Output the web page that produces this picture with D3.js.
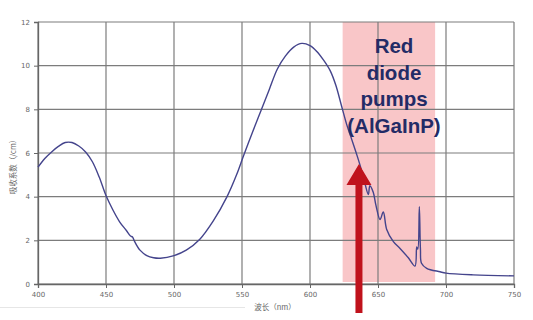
<!DOCTYPE html>
<html>
<head>
<meta charset="utf-8">
<script src="https://d3js.org/d3.v7.min.js"></script>
<style>
  body { margin: 0; background: #fff; }
  svg { display: block; }
</style>
</head>
<body>
<script>
  // absorption spectrum
  let wavelength = [400, 405, 410, 415, 420, 425, 430, 435, 440, 445, 450, 455, 460, 465, 468, 469.5, 471, 475, 480, 485, 490, 500, 509, 519, 529, 539, 546, 551, 558, 564, 570, 576, 582, 588, 594, 600, 605, 610, 615, 619, 623, 627, 630, 634, 637, 640.4, 642.9, 644, 646.5, 648.5, 651.5, 653.9, 656.4, 661.3, 666.2, 672.3, 677.2, 678.5, 679.3, 680.4, 681.2, 682, 685.8, 695.6, 700, 720, 750];
  let absorption = [5.35, 5.75, 6.05, 6.3, 6.48, 6.48, 6.32, 6.05, 5.6, 4.9, 4.05, 3.4, 2.85, 2.45, 2.2, 2.15, 1.95, 1.55, 1.3, 1.2, 1.18, 1.3, 1.55, 2.05, 2.9, 4.0, 5.0, 5.85, 7.0, 7.95, 8.9, 9.85, 10.45, 10.85, 11.02, 10.92, 10.65, 10.25, 9.75, 9.1, 8.2, 7.3, 6.75, 6.0, 5.4, 4.6, 4.1, 4.5, 4.2, 3.6, 2.95, 3.3, 2.5, 1.94, 1.63, 1.2, 0.82, 1.7, 1.6, 3.54, 1.6, 0.95, 0.72, 0.56, 0.5, 0.42, 0.37];

  let xTicks = [400, 450, 500, 550, 600, 650, 700, 750];
  let yTicks = [0, 2, 4, 6, 8, 10, 12];
  let pumpBand = [624, 692];
  let pumpLabel = ["Red", "diode", "pumps", "(AlGaInP)"];
  let arrowAt = 636;

  let width = 533, height = 320;
  let mLeft = 38, mRight = 514, mTop = 22, mBottom = 284;

  let svg = d3.select("body").append("svg")
    .attr("width", width)
    .attr("height", height);

  let x = d3.scaleLinear().domain([400, 750]).range([mLeft, mRight]);
  let y = d3.scaleLinear().domain([0, 12]).range([mBottom, mTop]);

  // pink pump band
  svg.append("rect")
    .attr("x", x(pumpBand[0]))
    .attr("y", mTop)
    .attr("width", x(pumpBand[1]) - x(pumpBand[0]))
    .attr("height", mBottom - mTop - 2)
    .attr("fill", "#f9c6c8");

  // grid
  svg.append("g").selectAll("line")
    .data(yTicks)
    .join("line")
    .attr("x1", mLeft).attr("x2", mRight)
    .attr("y1", d => y(d)).attr("y2", d => y(d))
    .attr("stroke", "#7c7c7c")
    .attr("stroke-width", 1.2);
  svg.append("g").selectAll("line")
    .data(xTicks)
    .join("line")
    .attr("x1", d => x(d)).attr("x2", d => x(d))
    .attr("y1", mTop).attr("y2", mBottom)
    .attr("stroke", "#7c7c7c")
    .attr("stroke-width", 1.2);

  // axes
  let xAxis = svg.append("g")
    .attr("transform", `translate(0,${mBottom})`)
    .call(d3.axisBottom(x).tickValues(xTicks).tickSize(4).tickPadding(4));
  let yAxis = svg.append("g")
    .attr("transform", `translate(${mLeft},0)`)
    .call(d3.axisLeft(y).tickValues(yTicks).tickSize(4).tickPadding(4));
  [xAxis, yAxis].forEach(g => {
    g.select(".domain").attr("stroke", "#666").attr("stroke-width", 1.3);
    g.selectAll(".tick line").attr("stroke", "#666");
    g.selectAll("text")
      .attr("fill", "#666")
      .style("font-family", "DejaVu Sans, sans-serif")
      .style("font-size", "7px");
  });

  // spectrum
  let pts = wavelength.map((w, i) => [w, absorption[i]]);
  svg.append("path")
    .datum(pts)
    .attr("d", d3.line().x(d => x(d[0])).y(d => y(d[1])).curve(d3.curveCatmullRom.alpha(0.5)))
    .attr("fill", "none")
    .attr("stroke", "#44448c")
    .attr("stroke-width", 1.4);

  // axis titles
  svg.append("text")
    .attr("transform", "translate(16,165) rotate(-90)")
    .attr("text-anchor", "middle")
    .attr("fill", "#666")
    .style("font-family", "Noto Sans CJK SC, sans-serif")
    .style("font-size", "7.5px")
    .text("吸收系数（/cm）");
  svg.append("text")
    .attr("x", 275).attr("y", 310)
    .attr("text-anchor", "middle")
    .attr("fill", "#666")
    .style("font-family", "Noto Sans CJK SC, sans-serif")
    .style("font-size", "7.5px")
    .text("波长（nm）");

  // faint slide line at the bottom
  svg.append("line")
    .attr("x1", 0).attr("x2", 245).attr("y1", 307.5).attr("y2", 307.5)
    .attr("stroke", "#e6e6e6");

  // label
  svg.append("g").selectAll("text")
    .data(pumpLabel)
    .join("text")
    .attr("x", 394)
    .attr("y", (d, i) => 53 + i * 26.7)
    .attr("text-anchor", "middle")
    .attr("fill", "#232b66")
    .style("font-family", "Liberation Sans, Arial, sans-serif")
    .style("font-weight", "bold")
    .style("font-size", "20.5px")
    .text(d => d);

  // red arrow
  let ax = x(arrowAt);
  svg.append("path")
    .attr("d", `M${ax - 3.5},313 L${ax - 3.5},185 L${ax - 12.5},185 L${ax},164 L${ax + 12.5},185 L${ax + 3.5},185 L${ax + 3.5},313 Z`)
    .attr("fill", "#c0121c");
</script>
</body>
</html>
